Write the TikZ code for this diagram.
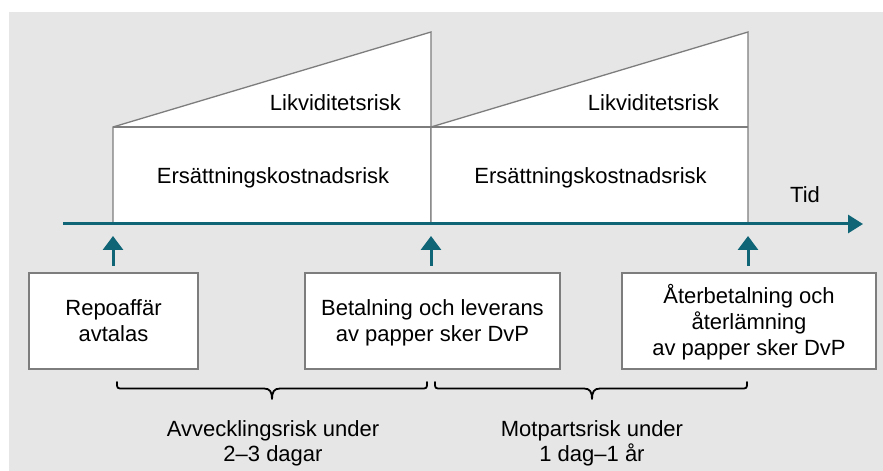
\documentclass[tikz,border=0pt]{standalone}
\usepackage{fontspec}
\setmainfont{Liberation Sans}
\usetikzlibrary{arrows.meta}
\definecolor{teal}{RGB}{15,100,118}
\definecolor{panelbg}{RGB}{230,230,230}
\definecolor{edge}{RGB}{125,125,125}
\begin{document}
\begin{tikzpicture}[x=1bp,y=-1bp,
  every node/.style={font=\fontsize{22bp}{26bp}\selectfont, inner sep=0pt},
  panel/.style={draw=edge, line width=1.3bp, fill=white, line join=miter},
  eventbox/.style={draw=edge, line width=1.3bp, fill=white, minimum height=96bp},
  eventtext/.style={align=center},
  uparrow/.style={draw=teal, line width=3bp, -{Triangle[width=20bp,length=14bp]}},
  timeaxis/.style={draw=teal, line width=3bp, -{Triangle[width=18bp,length=15bp]}},
  bracepath/.style={draw=black, line width=1.8bp, line cap=round, line join=round}
]
% canvas and grey backdrop
\useasboundingbox (0,0) rectangle (883,471);
\fill[panelbg] (9,12) rectangle (883,471);

% points on the time axis
\coordinate (t0) at (113,224);
\coordinate (t1) at (431,224);
\coordinate (t2) at (748,224);
\coordinate (axstart) at (63,224);
\coordinate (axend) at (863,224);

% first risk panel
\path[panel] (t0) -- (113,127) -- (431,32) -- (t1) -- cycle;
\draw[edge, line width=1.3bp] (113,127) -- (431,127);
% second risk panel
\path[panel] (t1) -- (431,127) -- (748,32) -- (t2) -- cycle;
\draw[edge, line width=1.3bp] (431,127) -- (748,127);

\node[anchor=base east] (liq1) at (401,111) {Likviditetsrisk};
\node[anchor=base east] (liq2) at (719,111) {Likviditetsrisk};
\node[anchor=base] (rep1) at (273,184) {Ersättningskostnadsrisk};
\node[anchor=base] (rep2) at (590.5,184) {Ersättningskostnadsrisk};

% time axis
\draw[timeaxis] (axstart) -- (axend);
\node[anchor=base] (tid) at (805,203) {Tid};

% events (base anchor sits on the last line of each label)
\node[eventbox, minimum width=169bp] (ev1) at (113.5,321) {};
\node[eventbox, minimum width=255bp] (ev2) at (432.5,321) {};
\node[eventbox, minimum width=254bp] (ev3) at (749,321) {};
\node[eventtext, anchor=base] (ev1a) at (113.5,342) {Repoaffär\\avtalas};
\node[eventtext, anchor=base] (ev2a) at (432.5,342) {Betalning och leverans\\av papper sker DvP};
\node[eventtext, anchor=base] (ev3a) at (749,356) {Återbetalning och\\återlämning\\av papper sker DvP};

\coordinate (up1) at (113,236);
\coordinate (up2) at (431,236);
\coordinate (up3) at (748,236);
\draw[uparrow] (113,266) -- (up1);
\draw[uparrow] (431,266) -- (up2);
\draw[uparrow] (748,266) -- (up3);

% braces under the events
\path[bracepath] (117,382) .. controls (117,388.5) .. (123,388.5) -- (264,388.5)
  .. controls (270,388.5) and (272,392) .. (272,399)
  .. controls (272,392) and (274,388.5) .. (280,388.5) -- (421,388.5)
  .. controls (427,388.5) .. (427,382);
\path[bracepath] (435,382) .. controls (435,388.5) .. (441,388.5) -- (584,388.5)
  .. controls (590,388.5) and (592,392) .. (592,399)
  .. controls (592,392) and (594,388.5) .. (600,388.5) -- (741,388.5)
  .. controls (747,388.5) .. (747,382);

\node[anchor=base] (set) at (273,436.5) {Avvecklingsrisk under};
\node[anchor=base] (set2) at (273,461.5) {2–3 dagar};
\node[anchor=base] (cpt) at (592,436.5) {Motpartsrisk under};
\node[anchor=base] (cpt2) at (592,461.5) {1 dag–1 år};
\end{tikzpicture}
\end{document}
